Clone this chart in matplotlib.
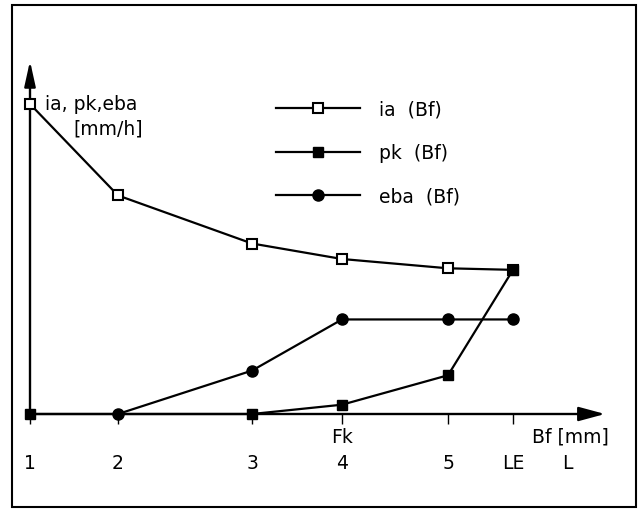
import numpy as np
import matplotlib
matplotlib.use('Agg')
import matplotlib.pyplot as plt
from matplotlib.patches import Rectangle

plt.rcParams['font.family'] = ['DejaVu Sans']

# positions along the Bf axis (arbitrary units) and tick labels
bf = [0.0, 8.8, 22.2, 31.2, 41.8, 48.3]
tick_labels = ['1', '2', '3', '4', '5', 'LE']

ia = [10.0, 7.05, 5.5, 5.0, 4.7, 4.65]
pk = [0.0, 0.0, 0.0, 0.3, 1.25, 4.65]
bf_eba = [8.8, 22.2, 31.2, 41.8, 48.3]
eba = [0.0, 1.4, 3.05, 3.05, 3.05]

W, H = 639, 510
fig = plt.figure(figsize=(W/100, H/100), dpi=100)

# origin of the diagram in pixels
x0, y0 = 30, 415
xtip, ytip = 605, 62
ax = fig.add_axes([x0/W, (H-y0)/H, (xtip-x0)/W, (y0-ytip)/H])
ax.set_xlim(0, (xtip-x0)/10)
ax.set_ylim(0, (y0-ytip)/31)
for s in ax.spines.values():
    s.set_visible(False)

lw = 1.6
fs = 13.5
ax.plot(bf, ia, '-s', c='k', lw=lw, ms=7, mfc='white', mec='k', mew=1.5, clip_on=False, zorder=5, label='ia  (Bf)')
ax.plot(bf, pk, '-s', c='k', lw=lw, ms=7, mfc='k', markevery=[0, 2, 3, 4, 5], clip_on=False, zorder=5, label='pk  (Bf)')
ax.plot(bf_eba, eba, '-o', c='k', lw=lw, ms=8, mfc='k', clip_on=False, zorder=6, label='eba  (Bf)')

# axes with arrow heads
arr_x = dict(arrowstyle='-|>,head_length=1.0,head_width=0.27', lw=1.7, color='k', mutation_scale=16, shrinkA=0, shrinkB=0)
arr_y = dict(arrowstyle='-|>,head_length=0.95,head_width=0.21', lw=1.7, color='k', mutation_scale=16, shrinkA=0, shrinkB=0)
ax.annotate('', xy=(ax.get_xlim()[1], 0), xytext=(0, 0), arrowprops=arr_x, annotation_clip=False)
ax.annotate('', xy=(0, ax.get_ylim()[1]), xytext=(0, 0), arrowprops=arr_y, annotation_clip=False)

ax.set_xticks(bf)
ax.set_xticklabels(tick_labels, fontsize=fs)
ax.tick_params(axis='x', direction='out', length=7, width=1, pad=21)
ax.set_yticks([])

ax.text(31.2, -0.72, 'Fk', ha='center', va='center', fontsize=fs)
ax.text(53.7, -1.55, 'L', ha='center', va='center', fontsize=fs)
ax.text(54.0, -0.72, 'Bf [mm]', ha='center', va='center', fontsize=fs)
ax.text(1.5, 10.0, 'ia, pk,eba', ha='left', va='center', fontsize=fs)
ax.text(11.3, 9.22, '[mm/h]', ha='right', va='center', fontsize=fs)

leg = ax.legend(loc='upper left', bbox_to_anchor=(259/W, (H-84)/H), bbox_transform=fig.transFigure,
                frameon=False, numpoints=1, handlelength=4.5, handletextpad=1.0,
                labelspacing=1.3, fontsize=fs)

fig.add_artist(Rectangle((12/W, (H-508)/H), 624/W, 502/H, transform=fig.transFigure,
                         fill=False, lw=1.5, ec='k'))

plt.savefig('out.png', dpi=100)
